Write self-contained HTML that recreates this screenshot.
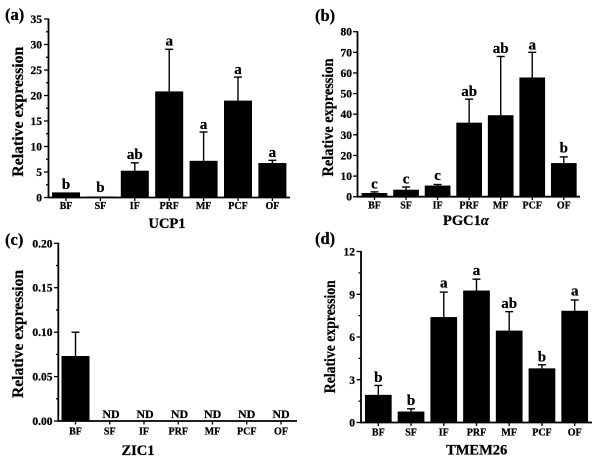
<!DOCTYPE html>
<html><head><meta charset="utf-8"><style>
html,body{margin:0;padding:0;background:#fff;}
svg{display:block;font-family:"Liberation Serif","DejaVu Serif",serif;}
text{font-family:"Liberation Serif","DejaVu Serif",serif;font-weight:bold;fill:#000;stroke:#000;stroke-width:0.25;}
.tl{font-size:11.5px;text-anchor:end;}
.xl{font-size:10px;text-anchor:middle;}
.sig{font-size:15px;text-anchor:middle;}
.nd{font-size:12px;text-anchor:middle;}
.ttl{font-size:14.5px;text-anchor:middle;}
.yl{font-size:16px;text-anchor:middle;}
.pl{font-size:16.5px;}
.ax{stroke:#000;stroke-width:1.8;fill:none;}
.tk{stroke:#000;stroke-width:1.3;}
.eb{stroke:#000;stroke-width:1.4;}
</style></head><body>
<svg width="600" height="460" viewBox="0 0 600 460" xmlns="http://www.w3.org/2000/svg">
<rect width="600" height="460" fill="#fff"/>

<!-- ===== Panel (a) UCP1 ===== -->
<text class="pl" x="5" y="20">(a)</text>
<text class="yl" transform="translate(23,111.7) rotate(-90)" textLength="130" lengthAdjust="spacingAndGlyphs">Relative expression</text>
<g>
<line class="tk" x1="44" y1="197.5" x2="48.5" y2="197.5"/>
<line class="tk" x1="44" y1="172" x2="48.5" y2="172"/>
<line class="tk" x1="44" y1="146.5" x2="48.5" y2="146.5"/>
<line class="tk" x1="44" y1="121" x2="48.5" y2="121"/>
<line class="tk" x1="44" y1="95.5" x2="48.5" y2="95.5"/>
<line class="tk" x1="44" y1="70" x2="48.5" y2="70"/>
<line class="tk" x1="44" y1="44.5" x2="48.5" y2="44.5"/>
<line class="tk" x1="44" y1="19" x2="48.5" y2="19"/>
<line class="tk" x1="46" y1="184.75" x2="48.5" y2="184.75"/>
<line class="tk" x1="46" y1="159.25" x2="48.5" y2="159.25"/>
<line class="tk" x1="46" y1="133.75" x2="48.5" y2="133.75"/>
<line class="tk" x1="46" y1="108.25" x2="48.5" y2="108.25"/>
<line class="tk" x1="46" y1="82.75" x2="48.5" y2="82.75"/>
<line class="tk" x1="46" y1="57.25" x2="48.5" y2="57.25"/>
<line class="tk" x1="46" y1="31.75" x2="48.5" y2="31.75"/>
<text class="tl" x="42" y="201.5">0</text>
<text class="tl" x="42" y="176">5</text>
<text class="tl" x="42" y="150.5">10</text>
<text class="tl" x="42" y="125">15</text>
<text class="tl" x="42" y="99.5">20</text>
<text class="tl" x="42" y="74">25</text>
<text class="tl" x="42" y="48.5">30</text>
<text class="tl" x="42" y="23">35</text>
</g>
<rect x="52" y="192.4" width="28" height="5.1"/>
<rect x="86.4" y="196.5" width="28" height="1.0"/>
<rect x="120.8" y="170.7" width="28" height="26.8"/>
<rect x="155.2" y="91.4" width="28" height="106.1"/>
<rect x="189.6" y="160.8" width="28" height="36.7"/>
<rect x="224" y="100.6" width="28" height="96.9"/>
<rect x="258.4" y="163" width="28" height="34.5"/>
<line class="eb" x1="134.8" y1="170.7" x2="134.8" y2="162.8"/><line class="eb" x1="130.8" y1="162.8" x2="138.8" y2="162.8"/>
<line class="eb" x1="169.2" y1="91.4" x2="169.2" y2="49.3"/><line class="eb" x1="165.2" y1="49.3" x2="173.2" y2="49.3"/>
<line class="eb" x1="203.6" y1="160.8" x2="203.6" y2="132"/><line class="eb" x1="199.6" y1="132" x2="207.6" y2="132"/>
<line class="eb" x1="238" y1="100.6" x2="238" y2="77.1"/><line class="eb" x1="234" y1="77.1" x2="242" y2="77.1"/>
<line class="eb" x1="272.4" y1="163" x2="272.4" y2="160.3"/><line class="eb" x1="268.4" y1="160.3" x2="276.4" y2="160.3"/>
<text class="sig" x="66" y="189">b</text>
<text class="sig" x="100.4" y="192">b</text>
<text class="sig" x="134.8" y="159">ab</text>
<text class="sig" x="169.2" y="45.5">a</text>
<text class="sig" x="203.6" y="129">a</text>
<text class="sig" x="238" y="74">a</text>
<text class="sig" x="272.4" y="157">a</text>
<path class="ax" d="M48.5,18.5 L48.5,197.5 L290,197.5"/>
<g class="tk">
<line x1="66" y1="197.5" x2="66" y2="201"/><line x1="100.4" y1="197.5" x2="100.4" y2="201"/><line x1="134.8" y1="197.5" x2="134.8" y2="201"/><line x1="169.2" y1="197.5" x2="169.2" y2="201"/><line x1="203.6" y1="197.5" x2="203.6" y2="201"/><line x1="238" y1="197.5" x2="238" y2="201"/><line x1="272.4" y1="197.5" x2="272.4" y2="201"/>
</g>
<text class="xl" x="66" y="209">BF</text>
<text class="xl" x="100.4" y="209">SF</text>
<text class="xl" x="134.8" y="209">IF</text>
<text class="xl" x="169.2" y="209">PRF</text>
<text class="xl" x="203.6" y="209">MF</text>
<text class="xl" x="238" y="209">PCF</text>
<text class="xl" x="272.4" y="209">OF</text>
<text class="ttl" x="167" y="228">UCP1</text>

<!-- ===== Panel (b) PGC1a ===== -->
<text class="pl" x="315" y="21">(b)</text>
<text class="yl" transform="translate(333,117.5) rotate(-90)" textLength="118" lengthAdjust="spacingAndGlyphs">Relative expression</text>
<g>
<line class="tk" x1="353" y1="196.7" x2="357.5" y2="196.7"/>
<line class="tk" x1="353" y1="176.1" x2="357.5" y2="176.1"/>
<line class="tk" x1="353" y1="155.45" x2="357.5" y2="155.45"/>
<line class="tk" x1="353" y1="134.8" x2="357.5" y2="134.8"/>
<line class="tk" x1="353" y1="114.2" x2="357.5" y2="114.2"/>
<line class="tk" x1="353" y1="93.6" x2="357.5" y2="93.6"/>
<line class="tk" x1="353" y1="72.95" x2="357.5" y2="72.95"/>
<line class="tk" x1="353" y1="52.3" x2="357.5" y2="52.3"/>
<line class="tk" x1="353" y1="31.7" x2="357.5" y2="31.7"/>
<text class="tl" x="352" y="200.7">0</text>
<text class="tl" x="352" y="180.1">10</text>
<text class="tl" x="352" y="159.45">20</text>
<text class="tl" x="352" y="138.8">30</text>
<text class="tl" x="352" y="118.2">40</text>
<text class="tl" x="352" y="97.6">50</text>
<text class="tl" x="352" y="76.95">60</text>
<text class="tl" x="352" y="56.3">70</text>
<text class="tl" x="352" y="35.7">80</text>
</g>
<rect x="361.65" y="193" width="25.7" height="3.7"/>
<rect x="393.2" y="189.7" width="25.7" height="7"/>
<rect x="424.75" y="185.56" width="25.7" height="11.14"/>
<rect x="456.3" y="122.66" width="25.7" height="74.04"/>
<rect x="487.85" y="115.23" width="25.7" height="81.47"/>
<rect x="519.4" y="77.49" width="25.7" height="119.21"/>
<rect x="550.95" y="163.08" width="25.7" height="33.62"/>
<line class="eb" x1="374.5" y1="193" x2="374.5" y2="191.9"/><line class="eb" x1="370.5" y1="191.9" x2="378.5" y2="191.9"/>
<line class="eb" x1="406.05" y1="189.7" x2="406.05" y2="187"/><line class="eb" x1="402.05" y1="187" x2="410.05" y2="187"/>
<line class="eb" x1="437.6" y1="185.56" x2="437.6" y2="184.5"/><line class="eb" x1="433.6" y1="184.5" x2="441.6" y2="184.5"/>
<line class="eb" x1="469.15" y1="122.66" x2="469.15" y2="99.14"/><line class="eb" x1="465.15" y1="99.14" x2="473.15" y2="99.14"/>
<line class="eb" x1="500.7" y1="115.23" x2="500.7" y2="56.45"/><line class="eb" x1="496.7" y1="56.45" x2="504.7" y2="56.45"/>
<line class="eb" x1="532.25" y1="77.49" x2="532.25" y2="52.33"/><line class="eb" x1="528.25" y1="52.33" x2="536.25" y2="52.33"/>
<line class="eb" x1="563.8" y1="163.08" x2="563.8" y2="156.9"/><line class="eb" x1="559.8" y1="156.9" x2="567.8" y2="156.9"/>
<text class="sig" x="374.5" y="188.5">c</text>
<text class="sig" x="406.05" y="183.5">c</text>
<text class="sig" x="437.6" y="180">c</text>
<text class="sig" x="469.15" y="96">ab</text>
<text class="sig" x="500.7" y="53">ab</text>
<text class="sig" x="532.25" y="49.5">a</text>
<text class="sig" x="563.8" y="152.5">b</text>
<path class="ax" d="M357.5,31.2 L357.5,196.7 L580,196.7"/>
<g class="tk">
<line x1="374.5" y1="196.7" x2="374.5" y2="200"/><line x1="406.05" y1="196.7" x2="406.05" y2="200"/><line x1="437.6" y1="196.7" x2="437.6" y2="200"/><line x1="469.15" y1="196.7" x2="469.15" y2="200"/><line x1="500.7" y1="196.7" x2="500.7" y2="200"/><line x1="532.25" y1="196.7" x2="532.25" y2="200"/><line x1="563.8" y1="196.7" x2="563.8" y2="200"/>
</g>
<text class="xl" x="374.5" y="208.5">BF</text>
<text class="xl" x="406.05" y="208.5">SF</text>
<text class="xl" x="437.6" y="208.5">IF</text>
<text class="xl" x="469.15" y="208.5">PRF</text>
<text class="xl" x="500.7" y="208.5">MF</text>
<text class="xl" x="532.25" y="208.5">PCF</text>
<text class="xl" x="563.8" y="208.5">OF</text>
<text class="ttl" x="466" y="225">PGC1<tspan font-style="italic">α</tspan></text>

<!-- ===== Panel (c) ZIC1 ===== -->
<text class="pl" x="5" y="245">(c)</text>
<text class="yl" transform="translate(23,334) rotate(-90)" textLength="128" lengthAdjust="spacingAndGlyphs">Relative expression</text>
<g>
<line class="tk" x1="54" y1="421" x2="58.3" y2="421"/>
<line class="tk" x1="54" y1="376.6" x2="58.3" y2="376.6"/>
<line class="tk" x1="54" y1="332.2" x2="58.3" y2="332.2"/>
<line class="tk" x1="54" y1="287.7" x2="58.3" y2="287.7"/>
<line class="tk" x1="54" y1="243.3" x2="58.3" y2="243.3"/>
<line class="tk" x1="56" y1="398.8" x2="58.3" y2="398.8"/>
<line class="tk" x1="56" y1="354.4" x2="58.3" y2="354.4"/>
<line class="tk" x1="56" y1="309.9" x2="58.3" y2="309.9"/>
<line class="tk" x1="56" y1="265.5" x2="58.3" y2="265.5"/>
<text class="tl" x="52.5" y="425">0.00</text>
<text class="tl" x="52.5" y="380.6">0.05</text>
<text class="tl" x="52.5" y="336.2">0.10</text>
<text class="tl" x="52.5" y="291.7">0.15</text>
<text class="tl" x="52.5" y="247.3">0.20</text>
</g>
<rect x="61.5" y="356" width="28" height="65"/>
<line class="eb" x1="75.5" y1="356" x2="75.5" y2="332.2"/><line class="eb" x1="71.5" y1="332.2" x2="79.5" y2="332.2"/>
<text class="nd" x="111" y="418">ND</text>
<text class="nd" x="145" y="418">ND</text>
<text class="nd" x="179.5" y="418">ND</text>
<text class="nd" x="212.7" y="418">ND</text>
<text class="nd" x="246.7" y="418">ND</text>
<text class="nd" x="281" y="418">ND</text>
<path class="ax" d="M58.3,242.8 L58.3,421 L297,421"/>
<g class="tk">
<line x1="75.5" y1="421" x2="75.5" y2="424.5"/><line x1="109.75" y1="421" x2="109.75" y2="424.5"/><line x1="144" y1="421" x2="144" y2="424.5"/><line x1="178.25" y1="421" x2="178.25" y2="424.5"/><line x1="212.5" y1="421" x2="212.5" y2="424.5"/><line x1="246.75" y1="421" x2="246.75" y2="424.5"/><line x1="281" y1="421" x2="281" y2="424.5"/>
</g>
<text class="xl" x="75.5" y="434.5">BF</text>
<text class="xl" x="109.75" y="434.5">SF</text>
<text class="xl" x="144" y="434.5">IF</text>
<text class="xl" x="178.25" y="434.5">PRF</text>
<text class="xl" x="212.5" y="434.5">MF</text>
<text class="xl" x="246.75" y="434.5">PCF</text>
<text class="xl" x="281" y="434.5">OF</text>
<text class="ttl" x="138" y="455">ZIC1</text>

<!-- ===== Panel (d) TMEM26 ===== -->
<text class="pl" x="315" y="244">(d)</text>
<text class="yl" transform="translate(335,336.7) rotate(-90)" textLength="113" lengthAdjust="spacingAndGlyphs">Relative expression</text>
<g>
<line class="tk" x1="356.5" y1="422.5" x2="361" y2="422.5"/>
<line class="tk" x1="356.5" y1="379.75" x2="361" y2="379.75"/>
<line class="tk" x1="356.5" y1="337" x2="361" y2="337"/>
<line class="tk" x1="356.5" y1="294.25" x2="361" y2="294.25"/>
<line class="tk" x1="356.5" y1="251.5" x2="361" y2="251.5"/>
<line class="tk" x1="358.5" y1="401.1" x2="361" y2="401.1"/>
<line class="tk" x1="358.5" y1="358.4" x2="361" y2="358.4"/>
<line class="tk" x1="358.5" y1="315.6" x2="361" y2="315.6"/>
<line class="tk" x1="358.5" y1="272.9" x2="361" y2="272.9"/>
<text class="tl" x="355" y="426.5">0</text>
<text class="tl" x="355" y="383.75">3</text>
<text class="tl" x="355" y="341">6</text>
<text class="tl" x="355" y="298.25">9</text>
<text class="tl" x="355" y="255.5">12</text>
</g>
<rect x="364.95" y="394.85" width="26.7" height="27.65"/>
<rect x="397.68" y="411.53" width="26.7" height="10.97"/>
<rect x="430.41" y="317.05" width="26.7" height="105.45"/>
<rect x="463.15" y="290.54" width="26.7" height="131.96"/>
<rect x="495.85" y="330.59" width="26.7" height="91.91"/>
<rect x="528.6" y="368.35" width="26.7" height="54.15"/>
<rect x="561.35" y="310.78" width="26.7" height="111.72"/>
<line class="eb" x1="378.3" y1="394.85" x2="378.3" y2="385.45"/><line class="eb" x1="374.3" y1="385.45" x2="382.3" y2="385.45"/>
<line class="eb" x1="411.03" y1="411.53" x2="411.03" y2="408.82"/><line class="eb" x1="407.03" y1="408.82" x2="415.03" y2="408.82"/>
<line class="eb" x1="443.76" y1="317.05" x2="443.76" y2="292.11"/><line class="eb" x1="439.76" y1="292.11" x2="447.76" y2="292.11"/>
<line class="eb" x1="476.5" y1="290.54" x2="476.5" y2="279.15"/><line class="eb" x1="472.5" y1="279.15" x2="480.5" y2="279.15"/>
<line class="eb" x1="509.2" y1="330.59" x2="509.2" y2="311.63"/><line class="eb" x1="505.2" y1="311.63" x2="513.2" y2="311.63"/>
<line class="eb" x1="541.95" y1="368.35" x2="541.95" y2="364.79"/><line class="eb" x1="537.95" y1="364.79" x2="545.95" y2="364.79"/>
<line class="eb" x1="574.7" y1="310.78" x2="574.7" y2="299.95"/><line class="eb" x1="570.7" y1="299.95" x2="578.7" y2="299.95"/>
<text class="sig" x="378.3" y="382">b</text>
<text class="sig" x="411.03" y="405">b</text>
<text class="sig" x="443.76" y="287.5">a</text>
<text class="sig" x="476.5" y="275">a</text>
<text class="sig" x="509.2" y="308">ab</text>
<text class="sig" x="541.95" y="361.5">b</text>
<text class="sig" x="574.7" y="295.7">a</text>
<path class="ax" d="M361,251 L361,422.5 L592,422.5"/>
<g class="tk">
<line x1="378.3" y1="422.5" x2="378.3" y2="426"/><line x1="411.03" y1="422.5" x2="411.03" y2="426"/><line x1="443.76" y1="422.5" x2="443.76" y2="426"/><line x1="476.5" y1="422.5" x2="476.5" y2="426"/><line x1="509.2" y1="422.5" x2="509.2" y2="426"/><line x1="541.95" y1="422.5" x2="541.95" y2="426"/><line x1="574.7" y1="422.5" x2="574.7" y2="426"/>
</g>
<text class="xl" x="378.3" y="435.5">BF</text>
<text class="xl" x="411.03" y="435.5">SF</text>
<text class="xl" x="443.76" y="435.5">IF</text>
<text class="xl" x="476.5" y="435.5">PRF</text>
<text class="xl" x="509.2" y="435.5">MF</text>
<text class="xl" x="541.95" y="435.5">PCF</text>
<text class="xl" x="574.7" y="435.5">OF</text>
<text class="ttl" x="476.7" y="454.5">TMEM26</text>
</svg>
</body></html>
